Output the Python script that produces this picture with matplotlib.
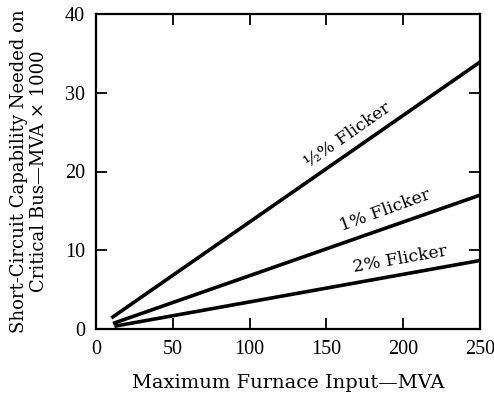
import matplotlib
matplotlib.use("Agg")
import matplotlib.pyplot as plt

plt.rcParams['font.family'] = ['DejaVu Serif']

half_x = [10, 250]
half_y = [1.4, 33.9]
one_x = [11, 250]
one_y = [0.7, 17.0]
two_x = [12, 250]
two_y = [0.35, 8.7]
labels = ["½% Flicker", "1% Flicker", "2% Flicker"]
xticks = [0, 50, 100, 150, 200, 250]
yticks = [0, 10, 20, 30, 40]

fig = plt.figure(figsize=(4.94, 3.94), dpi=100)
ax = fig.add_axes([96/494, 1 - 329/394, (480-96)/494, (329-14)/394])

for xs, ys in [(half_x, half_y), (one_x, one_y), (two_x, two_y)]:
    ax.plot(xs, ys, color='black', lw=2.6, solid_capstyle='butt')

ax.text(164, 24.6, labels[0], rotation=35, ha='center', va='center', fontsize=12.5)
ax.text(188, 15.1, labels[1], rotation=20, ha='center', va='center', fontsize=12.5)
ax.text(198, 8.8, labels[2], rotation=10, ha='center', va='center', fontsize=12.5)

ax.set_xlim(0, 250)
ax.set_ylim(0, 40)
ax.set_xticks(xticks)
ax.set_yticks(yticks)
ax.tick_params(direction='in', length=8, width=1.3, top=True, right=True, labelsize=14.5, pad=8)
for lab in ax.get_xticklabels() + ax.get_yticklabels():
    lab.set_fontfamily('Liberation Serif')
for s in ax.spines.values():
    s.set_linewidth(1.6)

ax.set_xlabel("Maximum Furnace Input—MVA", fontsize=14, labelpad=11)
ax.set_ylabel("Short-Circuit Capability Needed on\nCritical Bus—MVA × 1000", fontsize=13, labelpad=12, linespacing=1.15)

fig.savefig("out.png", dpi=100)
